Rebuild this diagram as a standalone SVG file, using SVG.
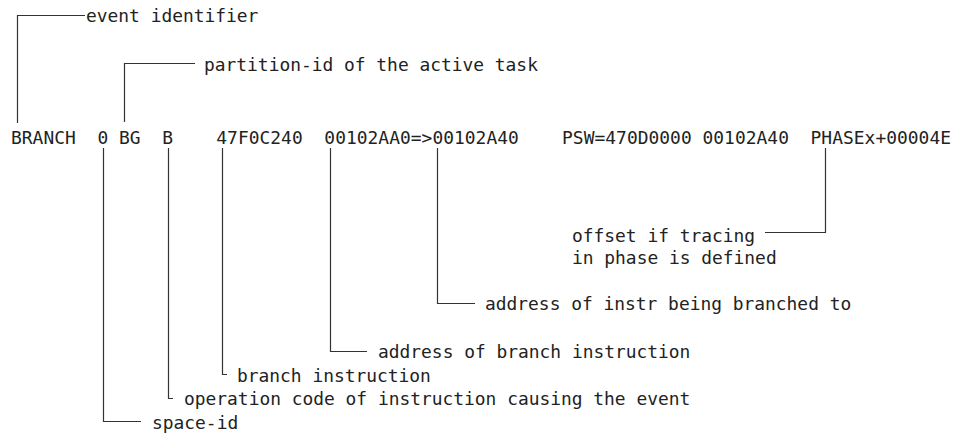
<svg xmlns="http://www.w3.org/2000/svg" width="955" height="434" viewBox="0 0 955 434">
  <style>
    text { font-family: "DejaVu Sans Mono", "Liberation Mono", monospace; font-size: 17.9px; fill: #222222; }
    .conn { fill: none; stroke: #333333; stroke-width: 1.2; }
  </style>
  <rect width="955" height="434" fill="#ffffff"/>
  <g id="trace-line">
    <text x="11" y="144" xml:space="preserve" textLength="940" lengthAdjust="spacing">BRANCH  0 BG  B    47F0C240  00102AA0=&gt;00102A40    PSW=470D0000 00102A40  PHASEx+00004E</text>
  </g>
  <g id="label-event-identifier">
    <text x="86" y="22">event identifier</text>
  </g>
  <g id="label-partition-id">
    <text x="204" y="71">partition-id of the active task</text>
  </g>
  <g id="label-offset">
    <text x="572" y="242">offset if tracing</text>
    <text x="572" y="264">in phase is defined</text>
  </g>
  <g id="label-branch-target">
    <text x="485" y="310">address of instr being branched to</text>
  </g>
  <g id="label-branch-address">
    <text x="378" y="358">address of branch instruction</text>
  </g>
  <g id="label-branch-instruction">
    <text x="237" y="381.5">branch instruction</text>
  </g>
  <g id="label-operation-code">
    <text x="184" y="405">operation code of instruction causing the event</text>
  </g>
  <g id="label-space-id">
    <text x="152" y="428.5">space-id</text>
  </g>
  <g id="connectors">
    <path class="conn" d="M17.5,123 V15.5 H85"/>
    <path class="conn" d="M124.5,122 V63.5 H195"/>
    <path class="conn" d="M825.5,148 V232.5 H765"/>
    <path class="conn" d="M437.5,148 V303.5 H475"/>
    <path class="conn" d="M330.5,148 V351.5 H367"/>
    <path class="conn" d="M222.5,148 V374.5 H227"/>
    <path class="conn" d="M168.5,148 V398.5 H173"/>
    <path class="conn" d="M103.5,148 V421.5 H141"/>
  </g>
</svg>
